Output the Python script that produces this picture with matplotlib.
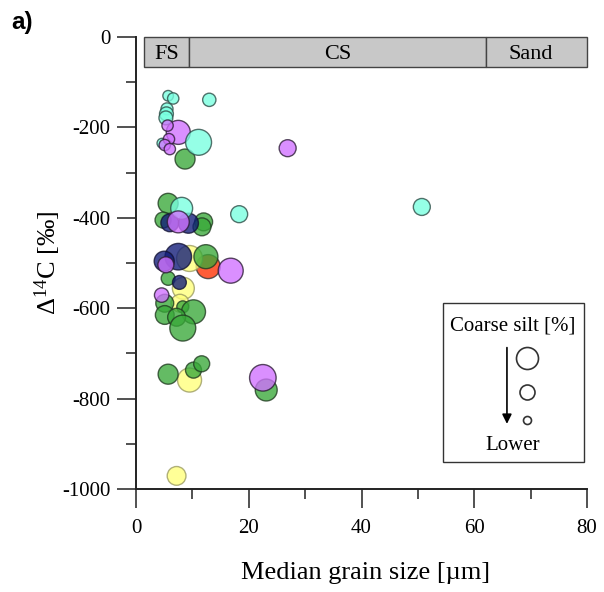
import matplotlib
matplotlib.use("Agg")
import matplotlib.pyplot as plt
from matplotlib.patches import Rectangle
import numpy as np

plt.rcParams['font.family'] = ['Liberation Serif', 'DejaVu Serif']
plt.rcParams['mathtext.fontset'] = 'custom'
plt.rcParams['mathtext.rm'] = 'Liberation Serif'
plt.rcParams['mathtext.it'] = 'Liberation Serif:italic'
plt.rcParams['axes.unicode_minus'] = False

# ---- data (drawing order matters for overlaps) ----
group = (['red'] + ['yellow'] * 5 + ['green'] * 17 + ['navy'] * 5 + ['violet']
         + ['turquoise'] * 11 + ['violet'] * 10)
grain_size = [12.8,
              9.5, 8.4, 7.8, 9.5, 7.2,
              8.7, 5.7, 4.8, 12.0, 11.7, 12.4, 5.7, 5.1, 8.3, 10.2, 5.1, 7.2, 8.3, 5.7, 10.2, 11.65, 23.1,
              6.0, 9.3, 7.5, 5.0, 7.7,
              7.5,
              5.7, 6.6, 13.0, 5.5, 5.4, 5.3, 4.6, 11.1, 8.1, 18.3, 50.7,
              5.6, 5.85, 5.1, 6.0, 26.9, 7.5, 5.3, 16.8, 4.55, 22.5]
d14c = [-508,
        -490, -556, -589, -759, -971,
        -270, -368, -405, -409, -420, -486, -534, -589, -597, -608, -615, -620, -644, -746, -737, -723, -781,
        -411, -412, -486, -496, -543,
        -211,
        -130, -136, -139, -159, -170, -179, -235, -233, -379, -392, -376,
        -196, -226, -239, -248, -246, -409, -504, -517, -571, -754]
coarse_silt = [36,
               42, 30, 20, 36, 22,
               25, 25, 16, 20, 20, 36, 12, 20, 9, 36, 22, 20, 42, 25, 16, 16, 30,
               20, 25, 44, 25, 12,
               36,
               7, 8, 11, 9, 12, 12, 6, 42, 30, 18, 18,
               8, 8, 8, 8, 18, 30, 16, 39, 13, 44]

texture_edges = [1.5, 9.4, 62, 80]
texture_labels = ['FS', 'CS', 'Sand']

palette = {'red': '#ff3000', 'yellow': '#ffff7a', 'green': '#38a838',
           'navy': '#0f1a78', 'turquoise': '#78ffe0', 'violet': '#d070ff'}
edge_pal = {'red': '#333333', 'yellow': '#9a9a60', 'green': '#1f3a1f',
            'navy': '#111133', 'turquoise': '#2a4a44', 'violet': '#2a1a33'}

fig = plt.figure(figsize=(6.04, 5.92), dpi=100)
ax = fig.add_axes([136/604, 1-489/592, (587-136)/604, (489-37)/592])

px2pt = 0.72
sizes = [(2 * np.sqrt(4 * c) * px2pt) ** 2 for c in coarse_silt]
ax.scatter(grain_size, d14c, s=sizes, c=[palette[g] for g in group],
           edgecolors=[edge_pal[g] for g in group], linewidths=1.0, alpha=0.78, zorder=3)

ax.set_xlim(0, 80)
ax.set_ylim(-1000, 0)
for sp in ['top', 'right']:
    ax.spines[sp].set_visible(False)
for sp in ['left', 'bottom']:
    ax.spines[sp].set_linewidth(1.4)
    ax.spines[sp].set_color('#222222')

ax.set_xticks([0, 20, 40, 60, 80])
ax.set_xticks([10, 30, 50, 70], minor=True)
ax.set_yticks([0, -200, -400, -600, -800, -1000])
ax.set_yticks([-100, -300, -500, -700, -900], minor=True)
ax.tick_params(which='major', direction='out', length=13.5, width=1.1, color='#222222',
               labelsize=15)
ax.tick_params(which='minor', direction='out', length=7, width=1.1, color='#222222')
ax.tick_params(axis='y', which='major', pad=5)
ax.tick_params(axis='x', which='major', pad=8)

ax.set_xlabel('Median grain size [µm]', fontsize=19)
ax.set_ylabel('Δ$^{14}$C [‰]', fontsize=19)
ax.xaxis.set_label_coords(0.51, (489 - 562) / 452)
ax.yaxis.set_label_coords((63 - 136) / 451, 0.5)

# texture bar
for i, lab in enumerate(texture_labels):
    x0, x1 = texture_edges[i], texture_edges[i + 1]
    ax.add_patch(Rectangle((x0, -66), x1 - x0, 66, facecolor='#c8c8c8',
                           edgecolor='#444444', linewidth=1.0, zorder=2, clip_on=False))
    ax.text((x0 + x1) / 2 - (1 if lab == 'Sand' else 0), -38, lab, ha='center', va='center',
            fontsize=16, zorder=4)

# size legend
ax.add_patch(Rectangle((54.5, -940), 25.0, 352, facecolor='white', edgecolor='#333333',
                       linewidth=1.0, zorder=4))
ax.text(66.9, -639, 'Coarse silt [%]', ha='center', va='center', fontsize=15, zorder=5)
ax.text(66.9, -903, 'Lower', ha='center', va='center', fontsize=15, zorder=5)
for yy, rr in [(-710, 11), (-785, 7.5), (-847, 4)]:
    ax.scatter([69.4], [yy], s=(2 * rr * px2pt) ** 2, facecolors='white',
               edgecolors='#333333', linewidths=1.2, zorder=6)
ax.annotate('', xy=(65.8, -862), xytext=(65.8, -681),
            arrowprops=dict(arrowstyle='-|>', color='black', lw=1.2, mutation_scale=14),
            zorder=6)

fig.text(11/604, 1-22/592, 'a)', fontsize=17.5, fontweight='bold',
         family=['Liberation Sans', 'DejaVu Sans'], va='center', ha='left')

fig.savefig('out.png', dpi=100)
